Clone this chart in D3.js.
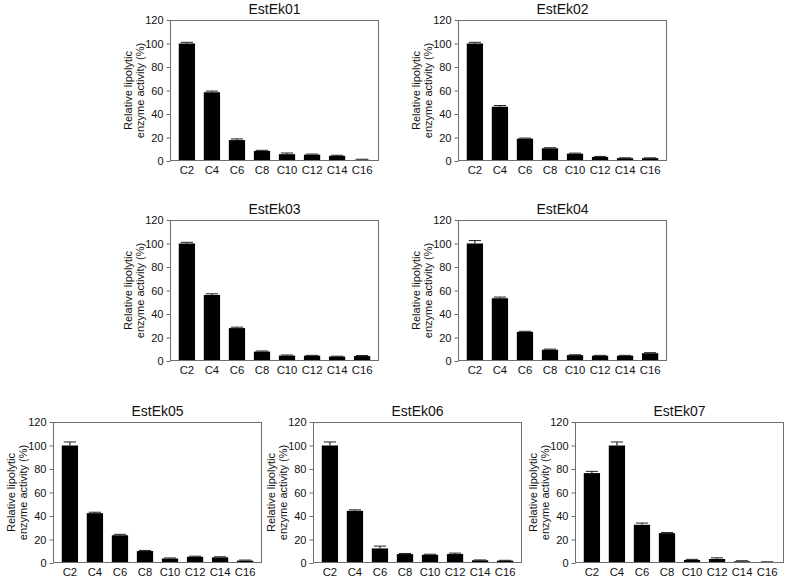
<!DOCTYPE html>
<html>
<head>
<meta charset="utf-8">
<script src="https://cdn.jsdelivr.net/npm/d3@7"></script>
<style>
  body { margin: 0; background: #fff; }
  text { font-family: "Liberation Sans", Arial, sans-serif; fill: #111; }
</style>
</head>
<body>
<div class="chart"></div>
<script>
// substrate chain lengths (x categories)
var substrates = ["C2", "C4", "C6", "C8", "C10", "C12", "C14", "C16"];
var yTicks = [0, 20, 40, 60, 80, 100, 120];
var enzymes = ["EstEk01", "EstEk02", "EstEk03", "EstEk04", "EstEk05", "EstEk06", "EstEk07"];

// relative activity (%)
var est01 = [100, 58.5, 17.8, 8.6, 5.8, 5.4, 4.4, 1.0];
var est02 = [100, 46.2, 19.0, 10.8, 6.2, 3.4, 2.4, 2.4];
var est03 = [100, 56.2, 28.0, 8.0, 4.6, 4.5, 3.8, 4.2];
var est04 = [100, 53.4, 24.8, 9.6, 5.0, 4.5, 4.5, 6.6];
var est05 = [100, 42.4, 23.6, 10.2, 3.8, 5.3, 4.8, 2.0];
var est06 = [100, 44.4, 12.4, 7.6, 7.0, 7.6, 2.3, 2.0];
var est07 = [76.5, 100, 32.5, 25.4, 2.6, 3.4, 1.4, 0.5];

// error (SD)
var err01 = [1, 1, 1, 0.5, 1, 0.5, 0.5, 0.5];
var err02 = [1, 1, 0.5, 0.5, 0.5, 0.5, 0.3, 0.3];
var err03 = [1, 1, 0.8, 0.5, 0.5, 0.3, 0.3, 0.5];
var err04 = [2.5, 1, 0.5, 0.5, 0.3, 0.3, 0.3, 0.5];
var err05 = [3, 0.8, 0.8, 0.5, 0.5, 0.5, 0.5, 0.5];
var err06 = [3, 0.8, 2, 0.5, 0.5, 0.8, 0.3, 0.3];
var err07 = [1.5, 3, 1.5, 0.5, 0.5, 1, 0.5, 0.5];

var allValues = [est01, est02, est03, est04, est05, est06, est07];
var allErrors = [err01, err02, err03, err04, err05, err06, err07];

// panel frame positions (top-left corner)
var panelPos = [[170, 20], [458, 20], [170, 220], [458, 220], [53, 422], [313, 422], [575, 422]];
var plotW = 209;
var plotH = 141;

var svg = d3.select(".chart").append("svg")
  .attr("width", 787)
  .attr("height", 580);

function drawPanel(name, values, errors, pos){
  var g = svg.append("g")
    .attr("transform", "translate(" + pos[0] + "," + pos[1] + ")");

  var x = d3.scaleBand()
    .domain(substrates)
    .range([0, plotW])
    .padding(0.35);
  var y = d3.scaleLinear()
    .domain([0, 120])
    .range([plotH, 0]);

  // bars
  g.selectAll(".bar")
    .data(values)
    .enter()
    .append("rect")
      .attr("class", "bar")
      .attr("x", function(d, i){ return x(substrates[i]); })
      .attr("y", function(d){ return y(d); })
      .attr("width", x.bandwidth())
      .attr("height", function(d){ return plotH - y(d); })
      .attr("fill", "#000");

  // error bars (upper half only visible)
  var capW = x.bandwidth() * 0.75;
  var eb = g.selectAll(".err")
    .data(values)
    .enter()
    .append("g")
      .attr("class", "err");
  eb.append("line")
    .attr("x1", function(d, i){ return x(substrates[i]) + x.bandwidth() / 2; })
    .attr("x2", function(d, i){ return x(substrates[i]) + x.bandwidth() / 2; })
    .attr("y1", function(d){ return y(d); })
    .attr("y2", function(d, i){ return y(d + errors[i]); })
    .attr("stroke", "#000")
    .attr("stroke-width", 1);
  eb.append("line")
    .attr("x1", function(d, i){ return x(substrates[i]) + (x.bandwidth() - capW) / 2; })
    .attr("x2", function(d, i){ return x(substrates[i]) + (x.bandwidth() + capW) / 2; })
    .attr("y1", function(d, i){ return y(d + errors[i]); })
    .attr("y2", function(d, i){ return y(d + errors[i]); })
    .attr("stroke", "#222")
    .attr("stroke-width", 1);

  // frame
  g.append("rect")
    .attr("x", 0.5)
    .attr("y", 0.5)
    .attr("width", plotW - 1)
    .attr("height", plotH - 1)
    .attr("fill", "none")
    .attr("stroke", "#6e6e6e")
    .attr("stroke-width", 1);

  // y axis
  var yAxis = d3.axisLeft(y)
    .tickValues(yTicks)
    .tickSize(4)
    .tickPadding(3);
  var ya = g.append("g")
    .attr("transform", "translate(0.5,0)")
    .call(yAxis);
  ya.select(".domain").remove();
  ya.selectAll("line").attr("stroke", "#6e6e6e");
  ya.selectAll("text")
    .attr("fill", "#111")
    .style("font-size", "11px")
    .style("font-family", "'Liberation Sans', Arial, sans-serif");

  // x axis
  var xAxis = d3.axisBottom(x)
    .tickSize(0)
    .tickPadding(5);
  var xa = g.append("g")
    .attr("transform", "translate(0," + plotH + ")")
    .call(xAxis);
  xa.select(".domain").remove();
  xa.selectAll("text")
    .attr("fill", "#111")
    .style("font-size", "11.3px")
    .style("font-family", "'Liberation Sans', Arial, sans-serif");

  // y label, two lines
  g.append("text")
    .attr("transform", "translate(-38," + (plotH / 2) + ") rotate(-90)")
    .attr("text-anchor", "middle")
    .style("font-size", "11px")
    .text("Relative lipolytic");
  g.append("text")
    .attr("transform", "translate(-26," + (plotH / 2) + ") rotate(-90)")
    .attr("text-anchor", "middle")
    .style("font-size", "11px")
    .text("enzyme activity (%)");

  // title
  g.append("text")
    .attr("x", plotW / 2)
    .attr("y", -6)
    .attr("text-anchor", "middle")
    .style("font-size", "14px")
    .text(name);
}

for (var i = 0; i < enzymes.length; i++){
  drawPanel(enzymes[i], allValues[i], allErrors[i], panelPos[i]);
}
</script>
</body>
</html>
